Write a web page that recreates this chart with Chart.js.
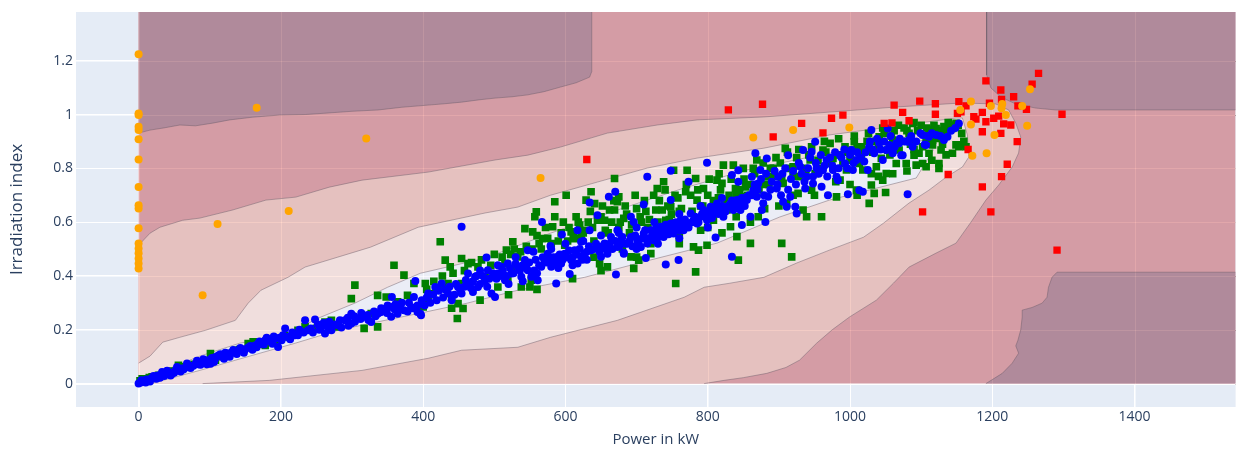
<!DOCTYPE html>
<html>
<head>
<meta charset="utf-8">
<script src="https://cdn.jsdelivr.net/npm/chart.js@4.4.1/dist/chart.umd.min.js"></script>
<style>
  html, body { margin: 0; padding: 0; background: #fff; }
</style>
</head>
<body>
<canvas id="chart" width="1241" height="454"></canvas>
<script>
const xTicks = [0, 200, 400, 600, 800, 1000, 1200, 1400];
const yTicks = [0, 0.2, 0.4, 0.6, 0.8, 1, 1.2];
const xRange = [-88, 1542];
const yRange = [-0.087, 1.381];

// contour boundaries (Power, Irradiation)
const darkTopLeftEdge = [[0,0.931],[16,0.942],[35,0.95],[58,0.961],[80,0.958],[104,0.968],[128,0.98],[160,0.99],[198,0.998],[235,1.0],[268,1.006],[300,1.012],[337,1.017],[370,1.027],[407,1.035],[430,1.04],[454,1.046],[480,1.055],[501,1.061],[525,1.066],[547,1.073],[570,1.085],[593,1.102],[615,1.118],[634,1.139],[637,1.16],[637,1.381]];
const darkTopRightEdge = [[1192,1.381],[1192,1.147],[1198,1.099],[1212,1.065],[1233,1.039],[1261,1.024],[1289,1.017],[1542,1.017]];
const darkBottomRightEdge = [[1191,0],[1214,0.038],[1228,0.076],[1237,0.113],[1233,0.14],[1236,0.161],[1240,0.2],[1242,0.247],[1242,0.273],[1256,0.283],[1270,0.299],[1277,0.321],[1279,0.358],[1284,0.395],[1291,0.414],[1542,0.414]];
const band3Edge = [[795,0],[823,0.012],[850,0.022],[883,0.038],[910,0.06],[929,0.087],[953,0.15],[975,0.2],[999,0.247],[1037,0.31],[1061,0.373],[1083,0.433],[1121,0.485],[1149,0.522],[1170,0.6],[1191,0.682],[1209,0.738],[1228,0.805],[1237,0.857],[1240,0.916],[1233,0.968],[1223,1.017],[1205,1.039],[1158,1.043],[1065,1.028],[971,1.009],[879,0.991],[785,0.98],[729,0.961],[659,0.931],[593,0.879],[547,0.849],[501,0.831],[407,0.786],[314,0.756],[268,0.73],[221,0.693],[179,0.682],[132,0.645],[86,0.615],[62,0.607],[30,0.581],[16,0.559],[0,0.514]];
const band4Edge = [[0,0.076],[16,0.102],[34,0.154],[58,0.172],[94,0.198],[136,0.235],[154,0.299],[172,0.347],[210,0.395],[234,0.433],[280,0.47],[326,0.507],[393,0.581],[487,0.634],[533,0.656],[579,0.7],[645,0.749],[715,0.801],[785,0.838],[879,0.875],[971,0.924],[1065,0.957],[1149,0.987],[1158,0.987],[1165,0.924],[1167,0.842],[1158,0.805],[1135,0.767],[1111,0.719],[1083,0.671],[1047,0.596],[1019,0.544],[971,0.496],[925,0.448],[879,0.395],[831,0.373],[795,0.358],[767,0.321],[673,0.235],[579,0.172],[533,0.135],[454,0.124],[407,0.094],[314,0.049],[184,0.012],[90,0]];
const band5Edge = [[0,0],[30,0.042],[86,0.102],[142,0.15],[164,0.161],[210,0.187],[256,0.247],[304,0.299],[350,0.358],[396,0.41],[487,0.466],[579,0.559],[673,0.645],[767,0.727],[855,0.794],[971,0.857],[1065,0.894],[1107,0.905],[1117,0.868],[1093,0.764],[971,0.682],[901,0.619],[813,0.522],[719,0.459],[627,0.395],[533,0.347],[462,0.299],[396,0.262],[326,0.224],[280,0.198],[220,0.15],[156,0.102],[86,0.049],[30,0.009],[16,0]];

const bluePoints = [
  [0,0],[3,0.004],[5,0.006],[8,0.008],[11,0.015],[14,0.012],[18,0.02],[24,0.025],[27,0.03],[33,0.037],[33,0.043],[38,0.04],[42,0.043],[47,0.037],[52,0.05],[56,0.055],[61,0.056],[66,0.06],[70,0.068],[70,0.062],[80,0.074],[84,0.072],[89,0.08],[94,0.08],[98,0.087],[101,0.074],[108,0.093],[108,0.099],[115,0.109],[117,0.102],[126,0.109],[130,0.115],[136,0.118],[140,0.124],[145,0.124],[150,0.128],[154,0.134],[164,0.142],[168,0.149],[173,0.149],[178,0.161],[182,0.159],[186,0.156],[192,0.167],[196,0.136],[201,0.161],[206,0.205],[210,0.173],[220,0.18],[229,0.192],[234,0.235],[238,0.198],[248,0.238],[257,0.211],[262,0.186],[271,0.198],[280,0.217],[290,0.235],[299,0.26],[299,0.223],[308,0.242],[317,0.248],[327,0.229],[336,0.26],[345,0.273],[355,0.285],[355,0.248],[356,0.322],[364,0.26],[373,0.273],[383,0.285],[387,0.322],[389,0.381],[392,0.266],[397,0.254],
  [4,0.012],[10,0.004],[16,0.008],[21,0.028],[25,0.018],[30,0.022],[36,0.028],[40,0.048],[45,0.03],[50,0.04],[54,0.062],[59,0.045],[63,0.052],[68,0.075],[73,0.058],[77,0.066],[82,0.085],[87,0.07],[91,0.09],[96,0.072],[103,0.095],[106,0.08],[112,0.104],[120,0.092],[122,0.115],[128,0.1],[133,0.125],[138,0.11],[143,0.132],[148,0.115],[157,0.14],[160,0.126],[166,0.135],[170,0.156],[176,0.145],[180,0.17],[188,0.148],[190,0.175],[198,0.17],[203,0.18],[213,0.165],[216,0.19],[224,0.18],[226,0.2],[232,0.19],[242,0.205],[245,0.19],[252,0.22],[254,0.2],[260,0.225],[266,0.21],[268,0.23],[275,0.22],[283,0.235],[285,0.208],[294,0.245],[295,0.215],[303,0.25],[304,0.23],[312,0.24],[313,0.262],[322,0.255],[323,0.236],[331,0.268],[333,0.25],[340,0.265],[341,0.28],[349,0.262],[350,0.29],[360,0.275],[361,0.295],[368,0.28],[370,0.3],[378,0.268],[380,0.3],[385,0.28],[392,0.29],
  [396,0.26],[398,0.31],[407,0.335],[417,0.359],[426,0.372],[435,0.335],[440,0.31],[449,0.359],[454,0.335],[463,0.372],[463,0.409],[473,0.397],[477,0.359],[487,0.384],[491,0.421],[496,0.335],[501,0.322],[505,0.409],[510,0.434],[515,0.384],[519,0.446],[524,0.409],[533,0.434],[538,0.397],[543,0.459],[547,0.421],[552,0.397],[561,0.384],[566,0.434],[571,0.459],[575,0.483],[580,0.434],[589,0.471],[594,0.446],[599,0.483],[608,0.459],[613,0.496],[617,0.446],[622,0.471],[627,0.483],[636,0.496],[645,0.508],[650,0.471],[655,0.521],[659,0.483],[664,0.545],[673,0.508],[678,0.533],[682,0.483],[687,0.521],[692,0.545],[701,0.533],[706,0.508],[710,0.558],[715,0.521],[720,0.57],[724,0.533],[729,0.558],[734,0.583],[738,0.545],[743,0.57],[748,0.595],[752,0.558],[757,0.583],[762,0.607],[766,0.57],[771,0.595],[776,0.632],[780,0.607],[785,0.595],[790,0.62],[794,0.645],[799,0.607],[804,0.657],[808,0.632],[813,0.669],[818,0.645],[822,0.62],[827,0.657],[832,0.669],[836,0.645],[841,0.682],[846,0.645],[850,0.669],[855,0.694],
  [402,0.29],[405,0.32],[410,0.3],[414,0.33],[419,0.31],[422,0.345],[428,0.32],[431,0.35],[437,0.36],[444,0.33],[446,0.37],[452,0.35],[458,0.36],[460,0.385],[467,0.355],[470,0.38],[475,0.4],[480,0.37],[484,0.4],[493,0.39],[498,0.41],[503,0.39],[508,0.4],[512,0.42],[517,0.4],[522,0.43],[527,0.41],[530,0.445],[536,0.42],[540,0.44],[545,0.43],[549,0.45],[556,0.42],[558,0.46],[563,0.44],[568,0.47],[573,0.45],[577,0.46],[583,0.47],[586,0.45],[592,0.48],[596,0.46],[602,0.47],[605,0.495],[610,0.47],[615,0.48],[620,0.5],[624,0.46],[630,0.49],[633,0.51],[640,0.5],[643,0.52],[648,0.49],[652,0.51],[657,0.5],[662,0.52],[666,0.5],[670,0.53],[676,0.51],[680,0.545],[685,0.52],[690,0.53],[694,0.51],[698,0.55],[703,0.52],[708,0.54],[712,0.57],[717,0.54],[722,0.55],[727,0.575],[731,0.545],[736,0.565],[741,0.59],[745,0.555],[750,0.575],[755,0.6],[760,0.57],[764,0.59],[768,0.61],[773,0.58],[778,0.6],[782,0.62],[787,0.6],[792,0.63],[797,0.62],[801,0.64],[806,0.615],[810,0.65],[815,0.63],[820,0.66],[825,0.64],[829,0.66],[834,0.68],[838,0.66],[844,0.67],[848,0.69],[852,0.66],[858,0.7],
  [470,0.34],[490,0.36],[520,0.37],[540,0.38],[560,0.41],[590,0.43],[610,0.44],[630,0.46],[480,0.42],[505,0.44],[530,0.47],[555,0.49],[580,0.5],[600,0.52],[625,0.53],[650,0.55],[675,0.56],[700,0.58],[725,0.6],[760,0.63],[790,0.66],[820,0.69],[700,0.5],[730,0.52],[760,0.54],[800,0.58],
  [454,0.583],[489,0.469],[547,0.496],[567,0.601],[579,0.511],[595,0.554],[606,0.407],[587,0.372],[622,0.527],[634,0.673],[661,0.694],[670,0.713],[671,0.405],[682,0.486],[692,0.62],[710,0.666],[715,0.769],[713,0.467],[741,0.443],[748,0.682],[748,0.791],[759,0.459],[773,0.75],[799,0.821],[811,0.543],[834,0.471],[834,0.775],[843,0.793],[843,0.75],[848,0.589],[634,0.57],[645,0.626],[617,0.57],[673,0.57],[696,0.601],
  [855,0.682],[860,0.62],[862,0.769],[864,0.719],[867,0.856],[869,0.694],[871,0.744],[874,0.794],[876,0.645],[878,0.67],[881,0.601],[883,0.837],[885,0.694],[897,0.725],[899,0.769],[906,0.676],[911,0.657],[913,0.849],[916,0.694],[923,0.657],[925,0.632],[930,0.806],[934,0.868],[937,0.725],[939,0.769],[946,0.862],[948,0.744],[951,0.899],[953,0.8],[960,0.732],[962,0.794],[967,0.831],[969,0.7],[976,0.794],[981,0.769],[983,0.756],[986,0.849],[993,0.818],[997,0.704],[1002,0.868],[1004,0.794],[1009,0.831],[1013,0.719],[1018,0.713],[1020,0.825],[1025,0.794],[1027,0.88],[1030,0.942],[1034,0.856],[1041,0.893],[1046,0.831],[1051,0.868],[1053,0.948],[1055,0.887],[1060,0.856],[1065,0.893],[1074,0.849],[1081,0.704],[1083,0.905],[1088,0.88],[1102,0.924],[1107,0.887],[1111,0.917],[1121,0.924],[1132,0.905],[1137,0.917],[1153,0.967],
  [1069,0.893],[1109,0.92],[1105,0.889],[1082,0.899],[1060,0.862],[1072,0.849],
  [862,0.7],[866,0.74],[870,0.72],[875,0.76],[879,0.7],[882,0.78],[888,0.72],[890,0.75],[894,0.79],[898,0.74],[903,0.7],[905,0.78],[909,0.8],[913,0.72],[917,0.76],[920,0.79],[924,0.74],[928,0.82],[932,0.78],[936,0.75],[941,0.8],[944,0.84],[948,0.77],[952,0.82],[956,0.78],[959,0.85],[964,0.81],[968,0.77],[972,0.84],[975,0.81],[979,0.86],[984,0.8],[988,0.84],[992,0.87],[996,0.8],[1000,0.85],[1005,0.82],[1010,0.86],[1015,0.84],[1022,0.86],[1028,0.9],[1032,0.87],[1038,0.91],[1043,0.87],[1048,0.9],[1057,0.92],[1063,0.88],[1070,0.91],[1078,0.9],[1086,0.92],[1093,0.9],[1099,0.93],[1115,0.93],[1127,0.92],[1142,0.94],[1148,0.95]
];

const greenPoints = [
  [2,0.01],[5,0.018],[12,0.012],[15,0.022],[19,0.025],[28,0.031],[35,0.035],[42,0.043],[48,0.047],[56,0.068],[64,0.062],[70,0.062],[78,0.072],[84,0.08],[92,0.085],[101,0.112],[108,0.087],[115,0.1],[122,0.105],[128,0.112],[136,0.124],[142,0.126],[154,0.149],[161,0.155],[170,0.146],[178,0.142],[185,0.162],[196,0.161],[205,0.178],[210,0.173],[224,0.198],[234,0.211],[250,0.205],[262,0.229],[271,0.235],[280,0.211],[299,0.316],[304,0.366],[317,0.205],[327,0.26],[336,0.328],[336,0.211],[348,0.322],[359,0.44],[364,0.304],[373,0.403],[378,0.328],[387,0.372],
  [400,0.285],[403,0.372],[407,0.31],[412,0.335],[421,0.353],[424,0.527],[431,0.459],[435,0.372],[438,0.434],[440,0.322],[448,0.242],[449,0.297],[454,0.465],[454,0.372],[456,0.279],[463,0.446],[477,0.434],[487,0.397],[505,0.359],[515,0.446],[517,0.496],[519,0.384],[526,0.527],[531,0.434],[533,0.471],[538,0.359],[543,0.576],[550,0.359],[552,0.384],[554,0.564],[557,0.62],[559,0.638],[568,0.539],[571,0.459],[582,0.583],[585,0.62],[585,0.676],[599,0.514],[601,0.7],[608,0.564],[613,0.539],[620,0.589],[627,0.57],[629,0.682],[636,0.713],[641,0.669],[645,0.607],[648,0.446],[655,0.607],[659,0.434],[662,0.645],[669,0.645],[669,0.762],[673,0.676],[675,0.694],[682,0.614],[692,0.471],[696,0.428],[701,0.508],[703,0.459],[720,0.483],[727,0.645],[729,0.725],[736,0.645],[738,0.75],[741,0.607],[748,0.657],[752,0.793],[755,0.372],[766,0.595],[769,0.713],[771,0.793],[780,0.508],[783,0.415],[783,0.762],[785,0.682],[787,0.496],[790,0.57],[794,0.725],[799,0.514],[804,0.645],[808,0.607],[813,0.756],[820,0.744],[822,0.812],[827,0.645],[832,0.583],[836,0.812],[839,0.725],[841,0.546],[843,0.459],[848,0.694],[853,0.731],
  [860,0.521],[869,0.831],[871,0.62],[885,0.769],[892,0.8],[904,0.521],[906,0.744],[909,0.874],[911,0.67],[918,0.471],[920,0.806],[927,0.707],[930,0.769],[934,0.645],[939,0.62],[944,0.831],[946,0.719],[951,0.781],[958,0.794],[962,0.868],[972,0.893],[976,0.837],[981,0.694],[986,0.756],[990,0.818],[995,0.794],[1000,0.843],[1004,0.868],[1006,0.899],[1009,0.719],[1013,0.818],[1018,0.794],[1020,0.868],[1027,0.67],[1030,0.738],[1034,0.707],[1037,0.806],[1041,0.917],[1044,0.837],[1046,0.756],[1051,0.781],[1053,0.868],[1060,0.905],[1065,0.818],[1069,0.868],[1079,0.818],[1083,0.93],[1088,0.967],[1090,0.849],[1093,0.812],[1097,0.856],[1102,0.818],[1107,0.806],[1107,0.905],[1111,0.856],[1114,0.936],[1116,0.887],[1121,0.948],[1121,0.911],[1125,0.8],[1125,0.93],[1128,0.868],[1132,0.955],[1135,0.93],[1139,0.948],[1144,0.961],[1144,0.856],[1149,0.967],[1153,0.88],[1158,0.887],
  [1102,0.88],[1111,0.942],[1116,0.905],[1125,0.818],[1144,0.948],[1149,0.887],[1163,0.88],
  [405,0.35],[415,0.38],[427,0.4],[442,0.41],[458,0.42],[468,0.45],[482,0.46],[495,0.44],[500,0.48],[511,0.47],[523,0.48],[528,0.5],[537,0.49],[545,0.51],[553,0.5],[563,0.52],[566,0.5],[575,0.54],[590,0.53],[594,0.56],[605,0.58],[611,0.55],[618,0.6],[625,0.56],[632,0.6],[638,0.58],[650,0.62],[656,0.57],[665,0.6],[677,0.6],[686,0.63],[693,0.59],[700,0.65],[707,0.6],[713,0.64],[718,0.61],[732,0.68],[744,0.66],[749,0.63],[758,0.69],[763,0.65],[776,0.7],[790,0.66],[800,0.7],[815,0.69],[818,0.72],[830,0.7],[845,0.72],[851,0.76],[858,0.74],[866,0.78],[880,0.74],[888,0.8],[895,0.77],[902,0.82],[915,0.8],[925,0.84],[936,0.8],[942,0.85],[955,0.83],[966,0.86],[970,0.82],[983,0.85],[993,0.88],[1002,0.83],[1010,0.88],[1016,0.85],[1024,0.9],[1032,0.86],[1040,0.88],[1048,0.93],[1056,0.85],[1062,0.94],[1072,0.9],[1076,0.95],[1085,0.89],[1095,0.94],[1100,0.96],[1108,0.95],[1118,0.96],[1130,0.94],[1138,0.97],[1152,0.96],[1157,0.93],[1160,0.9],[1060,0.78],[1080,0.79],[1040,0.77],[1000,0.74],[950,0.7],[900,0.66],[860,0.6],[820,0.56],[760,0.52],[700,0.47],[650,0.42],[610,0.39],[560,0.35],[520,0.33],[480,0.31],[440,0.28],[960,0.62],[1010,0.7],[1050,0.71],[1115,0.83],[1135,0.85],
  [560,0.55],[572,0.58],[580,0.52],[597,0.6],[603,0.53],[615,0.62],[622,0.55],[635,0.64],[640,0.53],[652,0.66],[660,0.56],[668,0.68],[675,0.58],[684,0.66],[690,0.56],[698,0.7],[705,0.62],[711,0.68],[716,0.58],[724,0.7],[730,0.6],[740,0.72],[746,0.61],[754,0.7],[760,0.64],[770,0.74],[778,0.64],[786,0.72],[793,0.66],[802,0.76],[808,0.68],[816,0.78],[824,0.68],[833,0.76],[840,0.7],[850,0.8],[856,0.7],[864,0.8],[872,0.72],[878,0.82],[886,0.74],[896,0.84],[904,0.76],[912,0.86],[920,0.77],[928,0.87],[938,0.78],[946,0.88],[954,0.8],[964,0.9],[974,0.82],[984,0.91],[996,0.86],[1006,0.92],[1016,0.88],[1026,0.93],[1036,0.9],[1046,0.95],[1058,0.92],[1068,0.96],[1080,0.94],[1090,0.97],[640,0.47],[680,0.5],[720,0.52],[760,0.55],[800,0.58],[840,0.62],[880,0.65],[920,0.7],[980,0.75],[1030,0.78],[1090,0.87],[1130,0.89]
];

const redPoints = [[630,0.833],[829,1.017],[877,1.038],[892,0.917],[932,0.967],[962,0.932],[974,0.986],[990,0.998],[1048,0.967],[1059,0.969],[1062,1.035],[1074,1.008],[1083,0.977],[1098,1.05],[1120,1.04],[1120,1.001],[1102,0.638],[1138,0.777],[1151,1.004],[1153,1.048],[1156,1.01],[1163,1.032],[1166,0.87],[1174,0.992],[1177,0.983],[1186,1.008],[1186,0.936],[1186,0.731],[1191,1.125],[1191,0.973],[1196,1.042],[1198,0.638],[1202,0.986],[1209,0.994],[1212,1.091],[1212,0.93],[1213,1.056],[1213,0.769],[1216,0.965],[1221,0.815],[1226,0.961],[1230,1.066],[1235,0.899],[1236,1.032],[1248,1.019],[1256,1.113],[1265,1.153],[1291,0.496],[1298,1.001]];

const orangePoints = [[0,1.224],[0,1.004],[0,0.998],[0,0.955],[0,0.942],[0,0.908],[0,0.833],[0,0.731],[0,0.663],[0,0.651],[0,0.577],[0,0.521],[0,0.502],[0,0.484],[0,0.465],[0,0.446],[0,0.428],[166,1.025],[111,0.593],[211,0.641],[90,0.328],[320,0.911],[565,0.764],[864,0.915],[920,0.942],[999,0.952],[1155,1.017],[1170,1.048],[1198,1.032],[1214,1.039],[1213,1.023],[1219,0.998],[1242,1.032],[1253,1.094],[1249,0.958],[1170,0.963],[1203,0.924],[1172,0.847],[1192,0.856]];

const toXY = list => list.map(([x, y]) => ({ x, y }));
const X1 = xRange[1], Y1 = yRange[1];
const textColour = '#2a3f5f';

function area(label, points, colour, order) {
  return { type: 'line', label, data: toXY(points), order, fill: 'shape',
    backgroundColor: colour, borderWidth: 0, pointRadius: 0 };
}
function edge(label, points) {
  return { type: 'line', label, data: toXY(points), order: 15, fill: false,
    borderColor: 'rgba(105,92,105,0.45)', borderWidth: 1, pointRadius: 0 };
}
function dots(label, points, colour, style, radius, order) {
  return { label, data: toXY(points), order, pointStyle: style, pointRadius: radius,
    pointBackgroundColor: colour, pointBorderColor: colour, pointBorderWidth: 0 };
}

// plot background
const plotBackground = {
  id: 'plotBackground',
  beforeDraw(chart) {
    const { ctx, chartArea: a } = chart;
    ctx.save();
    ctx.fillStyle = '#E5ECF6';
    ctx.fillRect(a.left, a.top, a.right - a.left, a.bottom - a.top);
    ctx.restore();
  }
};

// the contour is semi transparent in the original, so the grid shows through faintly
const gridThroughContour = {
  id: 'gridThroughContour',
  afterDatasetDraw(chart, args) {
    if (chart.data.datasets[args.index].label !== 'band 5') return;
    const { ctx, chartArea: a, scales: { x, y } } = chart;
    ctx.save();
    ctx.globalCompositeOperation = 'lighter';
    ctx.strokeStyle = 'rgb(14,11,6)';
    ctx.lineWidth = 1;
    ctx.beginPath();
    xTicks.forEach(v => {
      const p = Math.round(x.getPixelForValue(v)) + 0.5;
      ctx.moveTo(p, a.top); ctx.lineTo(p, a.bottom);
    });
    yTicks.forEach(v => {
      const p = Math.round(y.getPixelForValue(v)) + 0.5;
      ctx.moveTo(a.left, p); ctx.lineTo(a.right, p);
    });
    ctx.stroke();
    ctx.restore();
  }
};

new Chart(document.getElementById('chart'), {
  type: 'scatter',
  data: {
    datasets: [
      dots('outlier low', orangePoints, '#FFA500', 'circle', 4, 1),
      dots('outlier high', redPoints, '#FF0000', 'rect', 5.2, 2),
      dots('normal', bluePoints, '#0000FF', 'circle', 4, 3),
      dots('measured', greenPoints, '#008000', 'rect', 5.4, 4),
      edge('edge 5', band5Edge),
      edge('edge 4', band4Edge),
      edge('edge 3', band3Edge),
      edge('edge tl', darkTopLeftEdge),
      edge('edge tr', darkTopRightEdge),
      edge('edge br', darkBottomRightEdge),
      area('band 5', band5Edge, '#EBEDF6', 16),
      area('band 4', band4Edge.concat([[0, 0]]), '#F0DEDD', 17),
      area('band 3', band3Edge.concat([[0, 0]]), '#E5C1BF', 18),
      area('dark tl', darkTopLeftEdge.concat([[0, Y1]]), '#B08A9B', 19),
      area('dark tr', darkTopRightEdge.concat([[X1, Y1]]), '#B08A9B', 19),
      area('dark br', darkBottomRightEdge.concat([[X1, 0]]), '#B08A9B', 19),
      area('domain', [[0, 0], [X1, 0], [X1, Y1], [0, Y1]], '#D49CA5', 20)
    ]
  },
  options: {
    responsive: false,
    animation: false,
    events: [],
    layout: { padding: { top: 12, right: 0, bottom: 0, left: 0 } },
    plugins: { legend: { display: false }, tooltip: { enabled: false } },
    scales: {
      x: {
        type: 'linear', min: xRange[0], max: xRange[1],
        afterBuildTicks: s => { s.ticks = xTicks.map(value => ({ value })); },
        afterFit: s => { s.height = 47; },
        grid: { color: '#ffffff', lineWidth: c => (c.tick && c.tick.value === 0 ? 2 : 1), drawTicks: false },
        border: { display: false },
        ticks: { padding: 2, color: textColour, font: { family: 'Open Sans', size: 14 }, callback: v => String(v) },
        title: { display: true, text: 'Power in kW', color: textColour,
          font: { family: 'Open Sans', size: 15 }, padding: { top: 0, bottom: 5 } }
      },
      y: {
        type: 'linear', min: yRange[0], max: yRange[1],
        afterBuildTicks: s => { s.ticks = yTicks.map(value => ({ value })); },
        afterFit: s => { s.width = 76; },
        grid: { color: '#ffffff', lineWidth: c => (c.tick && c.tick.value === 0 ? 2 : 1), drawTicks: false },
        border: { display: false },
        ticks: { padding: 3, color: textColour, font: { family: 'Open Sans', size: 14 }, callback: v => String(v) },
        title: { display: true, text: 'Irradiation index', color: textColour,
          font: { family: 'Open Sans', size: 17 }, padding: { top: 7, bottom: 0 } }
      }
    }
  },
  plugins: [plotBackground, gridThroughContour]
});
</script>
</body>
</html>
